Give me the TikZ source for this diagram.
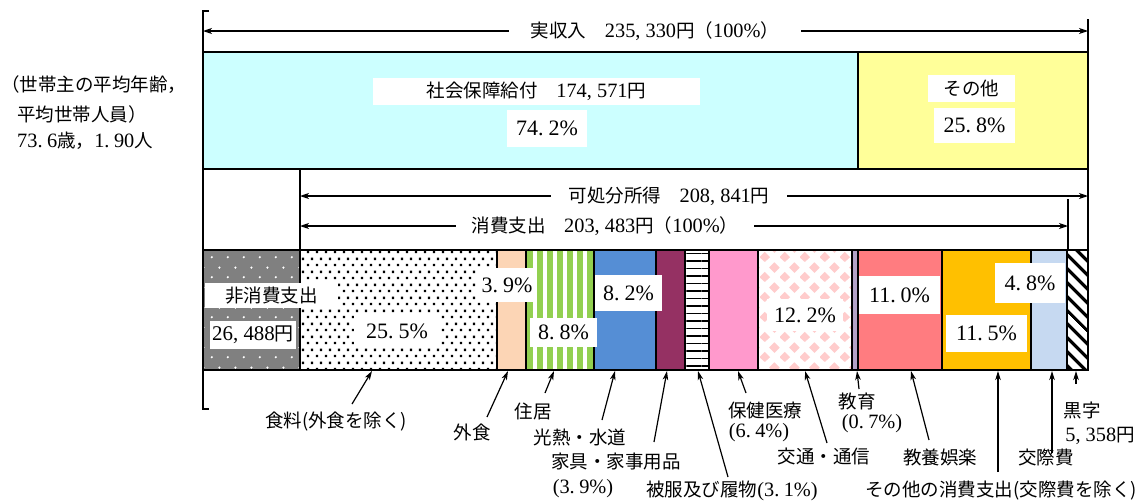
\documentclass[tikz,border=0pt]{standalone}
\usepackage{fontspec}
\setmainfont{Noto Sans CJK JP}
\newfontfamily\nf[Scale=1.1]{Liberation Serif}
\usetikzlibrary{arrows.meta,patterns,patterns.meta}
\definecolor{cCyan}{HTML}{CCFFFF}
\definecolor{cYellow}{HTML}{FFFF99}
\definecolor{cGray}{HTML}{808080}
\definecolor{cPeach}{HTML}{FCD5B5}
\definecolor{cGreen}{HTML}{92D050}
\definecolor{cBlue}{HTML}{558ED5}
\definecolor{cMaroon}{HTML}{953163}
\definecolor{cPink}{HTML}{FF99CC}
\definecolor{cDia}{HTML}{FFCCCC}
\definecolor{cLav}{HTML}{B3A2C7}
\definecolor{cRed}{HTML}{FF7C80}
\definecolor{cOrange}{HTML}{FFC000}
\definecolor{cLBlue}{HTML}{C6D9F1}
\tikzdeclarepattern{name=wdots,type=uncolored,bottom left={(0pt,0pt)},top right={(16pt,20pt)},tile size={(16pt,20pt)},
  code={\fill (4pt,5pt) circle (1.3pt); \fill (12pt,15pt) circle (1.3pt);}}
\tikzdeclarepattern{name=bdots,type=uncolored,bottom left={(0pt,0pt)},top right={(9pt,13pt)},tile size={(9pt,13pt)},
  code={\fill (1pt,2pt) rectangle (3.5pt,4.5pt); \fill (5.5pt,8.5pt) rectangle (8pt,11pt);}}
\tikzdeclarepattern{name=diam,type=uncolored,bottom left={(0pt,0pt)},top right={(20pt,20pt)},tile size={(20pt,20pt)},
  code={\fill (5pt,0pt) -- (10.5pt,5pt) -- (5pt,10.5pt) -- (-0.5pt,5pt) -- cycle;
        \fill (15pt,9.5pt) -- (20.5pt,15pt) -- (15pt,20.5pt) -- (9.5pt,15pt) -- cycle;}}
\newcommand{\cma}{,\kern.25em}
\newcommand{\pd}{.\kern.22em}
\newcommand{\dg}[1]{{\nf #1}}
\begin{document}
\begin{tikzpicture}[x=1pt,y=-1pt,
  jp/.style={font=\fontsize{18.5pt}{22pt}\selectfont, inner sep=0pt},
  pct/.style={font=\fontsize{20pt}{26pt}\selectfont\nf, inner sep=0pt},
  wbox/.style={fill=white},
  segline/.style={draw=black, line width=1.1pt},
  dimarrow/.style={line width=1.2pt, arrows={Stealth[length=9pt,width=6pt,inset=2.5pt]-Stealth[length=9pt,width=6pt,inset=2.5pt]}},
  ptr/.style={line width=1.2pt, -{Stealth[length=9pt,width=5.5pt,inset=2.5pt]}},
  rulel/.style={line width=1.3pt}]
\useasboundingbox (0,0) rectangle (1148,501);

% ---------- left bracket and guide lines
\draw[rulel] (209,11) -- (203,11) -- (203,409) -- (209,409);
\draw[rulel] (1088,19) -- (1088,370);
\draw[rulel] (300,169) -- (300,250);
\draw[rulel] (1068,199) -- (1068,250);

% ---------- income bar
\fill[cCyan] (203,52) rectangle (858,169);
\fill[cYellow] (858,52) rectangle (1088,169);
\draw[segline] (203,52) rectangle (858,169);
\draw[segline] (858,52) rectangle (1088,169);

\node[jp,wbox,minimum width=327pt,minimum height=27pt] (ssb) at (536.5,91.5) {社会保障給付　\dg{174\cma571}円};
\node[pct,wbox,minimum width=80pt,minimum height=37pt] (ssbp) at (547,128.5) {74\pd2\%};
\node[jp,wbox,minimum width=87pt,minimum height=27pt] (oth) at (971.5,88) {その他};
\node[pct,wbox,minimum width=81pt,minimum height=35pt] (othp) at (974.5,125.5) {25\pd8\%};

% ---------- dimension arrows
\coordinate (inL) at (203,31); \coordinate (inR) at (1088,31);
\draw[dimarrow] (inL) -- (inR);
\node[jp,wbox,inner xsep=22pt,inner ysep=3pt] (inc) at (655,31) {実収入　\dg{235\cma330}円（\dg{100\%}）};

\coordinate (dL) at (300,196); \coordinate (dR) at (1088,196);
\draw[dimarrow] (dL) -- (dR);
\node[jp,wbox,inner xsep=18pt,inner ysep=3pt] (disp) at (669,196) {可処分所得　\dg{208\cma841}円};

\coordinate (cL) at (300,226); \coordinate (cR) at (1068,226);
\draw[dimarrow] (cL) -- (cR);
\node[jp,wbox,inner xsep=16pt,inner ysep=3pt] (cons) at (605,226) {消費支出　\dg{203\cma483}円（\dg{100\%}）};

% ---------- expenditure bar
\fill[cGray] (203,250) rectangle (300,370);
\fill[pattern=wdots,pattern color=white] (203,250) rectangle (300,370);
\fill[white] (300,250) rectangle (497,370);
\fill[pattern=bdots,pattern color=black] (300,250) rectangle (497,370);
\fill[cPeach] (497,250) rectangle (526,370);
\fill[white] (526,250) rectangle (594,370);
\fill[pattern={Lines[angle=90,distance=10pt,line width=6pt]},pattern color=cGreen] (526,250) rectangle (594,370);
\fill[cBlue] (594,250) rectangle (656,370);
\fill[cMaroon] (656,250) rectangle (685,370);
\fill[white] (685,250) rectangle (709,370);
\fill[pattern={Lines[angle=0,distance=7.5pt,line width=1.9pt]},pattern color=black] (685,250) rectangle (709,370);
\fill[cPink] (709,250) rectangle (758,370);
\fill[white] (758,250) rectangle (852,370);
\fill[pattern=diam,pattern color=cDia] (758,250) rectangle (852,370);
\fill[cLav] (852,250) rectangle (858,370);
\fill[cRed] (858,250) rectangle (942,370);
\fill[cOrange] (942,250) rectangle (1031,370);
\fill[cLBlue] (1031,250) rectangle (1067,370);
\fill[white] (1067,250) rectangle (1088,370);
\fill[pattern={Lines[angle=-45,distance=10.5pt,line width=3.6pt]},pattern color=black] (1067,250) rectangle (1088,370);
\foreach \a/\b in {203/300,300/497,497/526,526/594,594/656,656/685,709/758,758/852,852/858,858/942,942/1031,1031/1067,1067/1088}
  \draw[segline] (\a,250) rectangle (\b,370);
\draw[segline,line width=2pt] (685,250) rectangle (709,370);

% ---------- labels inside the bar
\node[jp,wbox,minimum width=133pt,minimum height=25pt] (nc) at (271.5,295.5) {非消費支出};
\node[jp,wbox,minimum width=86pt,minimum height=28pt,font=\fontsize{19pt}{24pt}\selectfont] (ncv) at (253,335) {\dg{26\cma488}円};
\node[pct,wbox,minimum width=86pt,minimum height=32pt] (food) at (397,331) {25\pd5\%};
\node[pct,wbox,minimum width=60pt,minimum height=34pt] (eat) at (507,285) {3\pd9\%};
\node[pct,wbox,minimum width=67pt,minimum height=29pt] (hous) at (563.5,332.5) {8\pd8\%};
\node[pct,wbox,minimum width=67pt,minimum height=36pt] (util) at (628.5,293) {8\pd2\%};
\node[pct,wbox,minimum width=76pt,minimum height=32pt] (trans) at (805,315) {12\pd2\%};
\node[pct,wbox,minimum width=81pt,minimum height=38pt] (recr) at (899.5,295) {11\pd0\%};
\node[pct,wbox,minimum width=81pt,minimum height=37pt] (othc) at (986.5,333.5) {11\pd5\%};
\node[pct,wbox,minimum width=70pt,minimum height=40pt] (soc) at (1030,283) {4\pd8\%};

% ---------- left note
\node[jp,anchor=west] (n1) at (1,85) {（世帯主の平均年齢，};
\node[jp,anchor=west] (n2) at (17,114) {平均世帯人員）};
\node[jp,anchor=west] (n3) at (17,141) {\dg{73\pd6}歳，\dg{1\pd90}人};

% ---------- bottom labels
\node[jp] (l1) at (336,422) {食料(外食を除く)};
\node[jp] (l2) at (472,432) {外食};
\node[jp] (l3) at (533,411) {住居};
\node[jp] (l4) at (580,437) {光熱・水道};
\node[jp] (l5) at (616,462) {家具・家事用品};
\node[jp] (l5b) at (583,489) {\dg{(3\pd9\%)}};
\node[jp] (l6) at (732,491) {被服及び履物\dg{(3\pd1\%)}};
\node[jp] (l7) at (765,410) {保健医療};
\node[jp] (l7b) at (759,433) {\dg{(6\pd4\%)}};
\node[jp] (l8) at (824,456) {交通・通信};
\node[jp] (l9) at (857,401) {教育};
\node[jp] (l9b) at (872,424) {\dg{(0\pd7\%)}};
\node[jp] (l10) at (940,457) {教養娯楽};
\node[jp] (l11) at (1001,491) {その他の消費支出(交際費を除く)};
\node[jp] (l12) at (1046,457) {交際費};
\node[jp] (l13) at (1082,410) {黒字};
\node[jp] (l13b) at (1100,436) {\dg{5\cma358}円};

% ---------- pointers
\foreach \n/\tx/\ty/\hx/\hy in {a/352/404/372/371, b/487/417/508/371, c/545/393/554/371, d/602/420/615/371,
  e/654/442/667/371, f/728/477/698/371, g/746/393/738/371, h/827/443/805/371, i/859/389/857/371,
  j/929/440/911/371, k/998/472/998/371, m/1052/453/1052/371, p/1076/384/1076/371}{
  \coordinate (t\n) at (\tx,\ty);
  \coordinate (h\n) at (\hx,\hy);
  \draw[ptr] (t\n) -- (h\n);
}
\end{tikzpicture}
\end{document}
